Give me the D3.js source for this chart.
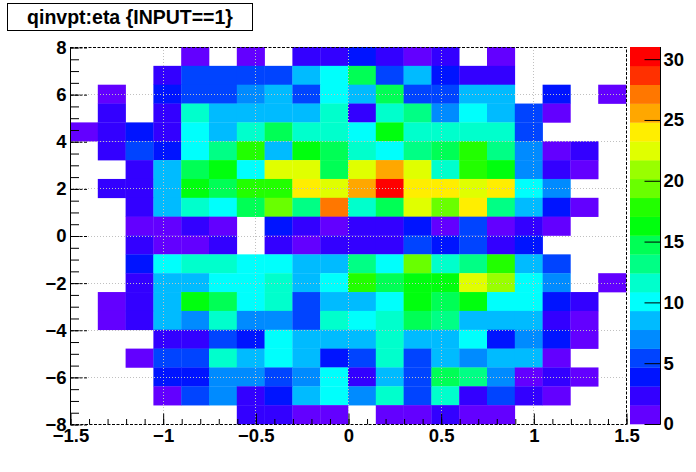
<!DOCTYPE html>
<html>
<head>
<meta charset="utf-8">
<script src="https://cdn.jsdelivr.net/npm/d3@7"></script>
<style>
  body { margin: 0; background: #fff; }
  svg { display: block; font-family: "Liberation Sans", Arial, Helvetica, sans-serif; font-weight: bold; }
  .tick text { font-size: 18.5px; fill: #000; }
</style>
</head>
<body>
<svg id="chart" width="696" height="472"></svg>
<script>
// Histogram binning (eta on x, qinvpt on y)
const etaRange = [-1.5, 1.5];
const qinvptRange = [-8, 8];
const nEta = 20;
const nQinvpt = 20;

// Bin contents, one row per qinvpt bin, top row (7.2..8) first, 20 eta bins each
const counts = [
  [0,0,0,0,1,0,1,0,2,2,4,2,1,2,0,1,0,0,0,0],
  [0,0,0,2,5,5,5,5,9,10,15,5,9,4,2,2,0,0,0,0],
  [0,1,0,4,5,5,7,9,5,10,9,15,5,5,9,9,0,4,0,1],
  [0,2,0,2,12,9,9,9,9,12,2,12,13,7,10,9,5,1,0,0],
  [1,2,4,2,10,9,12,15,12,12,10,16,12,12,12,12,5,0,0,0],
  [0,2,5,4,10,13,18,9,16,15,12,10,13,15,18,13,7,1,2,0],
  [0,0,2,9,15,16,10,22,22,15,22,26,22,12,18,16,7,2,1,0],
  [0,2,2,9,16,15,18,18,24,22,26,31,24,24,22,24,10,7,0,0],
  [0,0,2,9,12,10,15,19,13,27,12,15,22,19,24,13,9,4,1,0],
  [0,0,1,1,2,1,0,4,2,1,2,2,4,1,5,1,2,1,0,0],
  [0,0,2,1,1,2,0,2,1,2,2,2,5,4,5,2,4,0,0,0],
  [0,0,4,10,12,12,10,10,9,9,13,10,19,12,13,18,9,5,0,0],
  [0,0,2,9,9,10,10,12,9,10,18,15,16,16,22,21,10,7,0,1],
  [0,1,2,9,16,15,10,12,5,9,9,10,16,15,16,10,10,4,2,0],
  [0,1,2,9,7,12,7,7,5,12,10,12,15,13,9,9,9,2,1,0],
  [0,0,0,2,2,5,4,10,9,9,9,12,9,9,10,4,7,4,1,0],
  [0,0,1,5,5,12,9,10,9,4,5,12,5,9,7,9,9,1,0,0],
  [0,0,0,4,4,7,7,5,7,10,2,9,5,15,13,7,1,2,1,0],
  [0,0,0,1,5,7,2,4,9,10,7,12,5,12,2,5,2,1,0,0],
  [0,0,0,0,0,0,2,2,1,1,0,1,1,2,1,1,0,0,0,0],
];

const xTickValues = [-1.5, -1, -0.5, 0, 0.5, 1, 1.5];
const yTickValues = [-8, -6, -4, -2, 0, 2, 4, 6, 8];
const zTickValues = [0, 5, 10, 15, 20, 25, 30];
const titleText = 'qinvpt:eta {INPUT==1}';

const svg = d3.select('#chart');
const frame = { left: 70, right: 626, top: 47, bottom: 424 };

const x = d3.scaleLinear().domain(etaRange).range([frame.left, frame.right]);
const y = d3.scaleLinear().domain(qinvptRange).range([frame.bottom, frame.top]);

// ROOT "pretty" palette: 50 hues violet -> red, 20 contour levels
const palette50 = d3.range(50).map((i) => d3.hsl(280 - (i + 1) * 5.6, 1, 0.5).formatHex());
const nLevels = 20;
const bandColors = d3.range(nLevels).map((i) => palette50[Math.floor((i + 0.99) * 50 / nLevels)]);
const zMax = d3.max(counts.flat());
const color = d3.scaleQuantize().domain([0, zMax]).range(bandColors);

const dx = (etaRange[1] - etaRange[0]) / nEta;
const dy = (qinvptRange[1] - qinvptRange[0]) / nQinvpt;

const cells = [];
counts.forEach((row, r) => {
  row.forEach((v, i) => {
    if (v > 0) {
      cells.push({
        x0: etaRange[0] + i * dx,
        y1: qinvptRange[1] - r * dy,
        v,
      });
    }
  });
});

svg.append('g')
  .selectAll('rect')
  .data(cells)
  .join('rect')
  .attr('x', (d) => x(d.x0))
  .attr('y', (d) => y(d.y1))
  .attr('width', (d) => x(d.x0 + dx) - x(d.x0) + 0.3)
  .attr('height', (d) => y(d.y1 - dy) - y(d.y1) + 0.3)
  .attr('fill', (d) => color(Math.min(d.v, zMax * 0.9999)));

// Dotted grid
const grid = svg.append('g')
  .attr('stroke', '#c0c0c0')
  .attr('stroke-width', 1)
  .attr('stroke-dasharray', '1,2');

grid.selectAll('line.gx')
  .data(xTickValues.slice(1, -1))
  .join('line')
  .attr('x1', (d) => Math.round(x(d)) + 0.5)
  .attr('x2', (d) => Math.round(x(d)) + 0.5)
  .attr('y1', frame.top)
  .attr('y2', frame.bottom);

grid.selectAll('line.gy')
  .data(yTickValues.slice(1, -1))
  .join('line')
  .attr('y1', (d) => Math.round(y(d)) + 0.5)
  .attr('y2', (d) => Math.round(y(d)) + 0.5)
  .attr('x1', frame.left)
  .attr('x2', frame.right);

// Frame
svg.append('rect')
  .attr('x', frame.left + 0.5)
  .attr('y', frame.top + 0.5)
  .attr('width', frame.right - frame.left)
  .attr('height', frame.bottom - frame.top)
  .attr('fill', 'none')
  .attr('stroke', '#000')
  .attr('stroke-dasharray', '3,1.5');

// Axes: minor ticks first, then major ticks with labels
function styleAxis(g) {
  g.select('.domain').remove();
  g.selectAll('.tick line').attr('stroke', '#000');
}

const xMinor = d3.range(-15, 16).map((k) => k / 10);
svg.append('g')
  .attr('transform', `translate(0.5,${frame.bottom + 0.5})`)
  .call(d3.axisBottom(x).tickValues(xMinor).tickSize(-5.5).tickFormat(''))
  .call(styleAxis);

svg.append('g')
  .attr('transform', `translate(0.5,${frame.bottom + 0.5})`)
  .call(d3.axisBottom(x).tickValues(xTickValues).tickSize(-11).tickPadding(4).tickFormat(d3.format('')))
  .call(styleAxis);

const yMinor = d3.range(-16, 17).map((k) => k / 2);
svg.append('g')
  .attr('transform', `translate(${frame.left + 0.5},0.5)`)
  .call(d3.axisLeft(y).tickValues(yMinor).tickSize(-8.5).tickFormat(''))
  .call(styleAxis);

svg.append('g')
  .attr('transform', `translate(${frame.left + 0.5},0.5)`)
  .call(d3.axisLeft(y).tickValues(yTickValues).tickSize(-16.5).tickPadding(4).tickFormat(d3.format('')))
  .call(styleAxis)
  .selectAll('.tick line').attr('stroke-dasharray', '3,1.5');

svg.append('line')
  .attr('x1', frame.left + 0.5).attr('x2', frame.left + 0.5)
  .attr('y1', frame.top).attr('y2', frame.bottom + 1)
  .attr('stroke', '#000');

// Colour palette
const pal = { left: 630, right: 660 };
const z = d3.scaleLinear().domain([0, zMax]).range([frame.bottom, frame.top]);
const bandStep = zMax / nLevels;

svg.append('g')
  .selectAll('rect')
  .data(bandColors)
  .join('rect')
  .attr('x', pal.left)
  .attr('width', pal.right - pal.left)
  .attr('y', (d, i) => z((i + 1) * bandStep))
  .attr('height', (d, i) => z(i * bandStep) - z((i + 1) * bandStep) + 0.3)
  .attr('fill', (d) => d);

svg.append('g')
  .attr('transform', `translate(${pal.right + 0.5},0)`)
  .call(d3.axisRight(z).tickValues(zTickValues).tickSize(-16).tickPadding(3).tickFormat(d3.format('d')))
  .call((g) => {
    g.select('.domain').attr('stroke', '#000').attr('d', `M0,${frame.top}V${frame.bottom + 0.5}`);
    g.selectAll('.tick line').attr('stroke', '#000');
  });

// Title box
const title = svg.append('g');
title.append('rect')
  .attr('x', 7.5).attr('y', 3.5)
  .attr('width', 245).attr('height', 27)
  .attr('fill', '#fff')
  .attr('stroke', '#000');
title.append('text')
  .attr('x', 130)
  .attr('y', 24)
  .attr('text-anchor', 'middle')
  .style('font-size', '19.5px')
  .text(titleText);
</script>
</body>
</html>
